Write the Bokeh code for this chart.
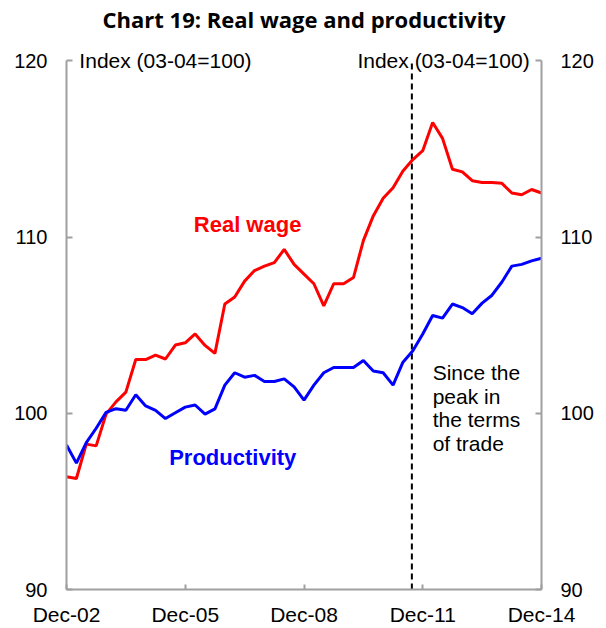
from bokeh.plotting import figure
from bokeh.models import Range1d, LinearAxis, FixedTicker, Label
from bokeh.embed import file_html
from bokeh.resources import INLINE

# ---- data -------------------------------------------------------------
quarters = []
for yr in range(2, 15):
    for m in ["Mar", "Jun", "Sep", "Dec"]:
        if yr == 2 and m != "Dec":
            continue
        quarters.append(f"{m}-{yr:02d}")

real_wage = [96.4, 96.3, 98.25, 98.15, 99.95, 100.65, 101.2, 103.05, 103.05, 103.3,
             103.08, 103.87, 104.0, 104.5, 103.85, 103.4, 106.2, 106.6, 107.5, 108.1,
             108.35, 108.55, 109.3, 108.45, 107.9, 107.35, 106.1, 107.35, 107.35, 107.7,
             109.8, 111.2, 112.2, 112.8, 113.75, 114.4, 114.9, 116.5, 115.6, 113.85,
             113.7, 113.2, 113.1, 113.1, 113.05, 112.5, 112.4, 112.7, 112.5]

productivity = [98.2, 97.17, 98.34, 99.15, 100.05, 100.26, 100.17, 101.05, 100.42, 100.17,
                99.7, 100.03, 100.35, 100.47, 99.95, 100.25, 101.6, 102.3, 102.05, 102.15,
                101.8, 101.8, 101.95, 101.5, 100.75, 101.6, 102.3, 102.6, 102.6, 102.6,
                103.0, 102.4, 102.3, 101.6, 102.9, 103.55, 104.5, 105.55, 105.4, 106.2,
                106.0, 105.65, 106.25, 106.7, 107.45, 108.35, 108.45, 108.65, 108.8]

x_idx = list(range(len(quarters)))
x_ticks = [0, 12, 24, 36, 48]
y_ticks = [90, 100, 110, 120]
y_min, y_max = 90, 120
tot_peak = 34.9  # quarter index of the terms-of-trade peak (dashed line)

title_text = "Chart 19: Real wage and productivity"
unit_text = "Index (03-04=100)"
note_text = "Since the\npeak in\nthe terms\nof trade"

# ---- figure -----------------------------------------------------------
p = figure(width=606, height=628, output_backend="svg", toolbar_location=None,
           x_range=Range1d(0, len(quarters) - 1), y_range=Range1d(y_min, y_max + 0.7),
           min_border_left=66, min_border_right=65, min_border_top=48,
           min_border_bottom=38)
p.outline_line_color = None
p.grid.visible = False
p.background_fill_color = "white"
p.border_fill_color = "white"

AX_COL = "#A0A0A0"
TICK_FONT = "Liberation Sans"


def style_axis(ax, standoff, size="20px"):
    ax.axis_line_color = AX_COL
    ax.axis_line_width = 2
    ax.major_tick_line_color = AX_COL
    ax.major_tick_line_width = 2
    ax.major_tick_in = 6
    ax.major_tick_out = 0
    ax.minor_tick_line_color = None
    ax.major_label_text_font = TICK_FONT
    ax.major_label_text_font_size = size
    ax.major_label_text_color = "black"
    ax.major_label_standoff = standoff


# y axes (left and right), limited to 90-120
p.yaxis.ticker = FixedTicker(ticks=y_ticks)
p.yaxis.bounds = (y_min, y_max)
style_axis(p.yaxis[0], 19)
right_ax = LinearAxis(ticker=FixedTicker(ticks=y_ticks), bounds=(y_min, y_max))
style_axis(right_ax, 19)
p.add_layout(right_ax, "right")

# x axis
p.xaxis.ticker = FixedTicker(ticks=x_ticks)
p.xaxis.major_label_overrides = {i: quarters[i] for i in x_ticks}
style_axis(p.xaxis[0], 13, "21px")
p.xaxis.major_tick_in = 5

# title as the label of an invisible top axis
title_ax = LinearAxis(ticker=FixedTicker(ticks=[]), axis_label=title_text)
title_ax.axis_line_color = None
title_ax.major_tick_line_color = None
title_ax.minor_tick_line_color = None
title_ax.axis_label_text_font = "Open Sans"
title_ax.axis_label_text_font_style = "bold"
title_ax.axis_label_text_font_size = "22px"
title_ax.axis_label_text_color = "black"
title_ax.axis_label_standoff = 15
p.add_layout(title_ax, "above")

# dashed line at terms-of-trade peak
p.segment(x0=[tot_peak], y0=[y_min], x1=[tot_peak], y1=[y_max],
          line_color="black", line_width=2, line_dash="6 4")

# series
p.line(x_idx, real_wage, line_color="#FF0000", line_width=3)
p.line(x_idx, productivity, line_color="#0000FF", line_width=3)

# annotations
p.add_layout(Label(x=1.3, y=120, text=unit_text, text_font=TICK_FONT,
                   text_font_size="21px", text_baseline="middle", text_align="left",
                   text_color="black"))
p.add_layout(Label(x=46.8, y=120, text=unit_text, text_font=TICK_FONT,
                   text_font_size="21px", text_baseline="middle", text_align="right",
                   text_color="black"))
p.add_layout(Label(x=18.3, y=110.7, text="Real wage", text_font=TICK_FONT,
                   text_font_size="22px", text_font_style="bold", text_baseline="middle",
                   text_align="center", text_color="#FF0000"))
p.add_layout(Label(x=16.8, y=97.5, text="Productivity", text_font=TICK_FONT,
                   text_font_size="22px", text_font_style="bold", text_baseline="middle",
                   text_align="center", text_color="#0000FF"))
p.add_layout(Label(x=37.0, y=100.3, text=note_text, text_font=TICK_FONT,
                   text_font_size="21px", text_baseline="middle", text_align="left",
                   text_line_height=1.02, text_color="black"))

open("out.html", "w").write(file_html(p, INLINE))
